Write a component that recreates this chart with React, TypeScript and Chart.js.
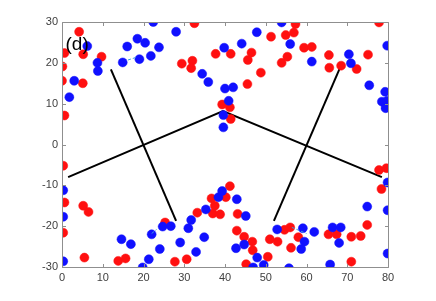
import React, { useEffect, useRef } from "react";
import { Chart, registerables } from "chart.js";
Chart.register(...registerables);

const xTicks = [0, 10, 20, 30, 40, 50, 60, 70, 80];
const yTicks = [-30, -20, -10, 0, 10, 20, 30];
const panelLabel = "(d)";

const redPoints: [number, number][] = [
  [0.6, 22.4], [4.2, 27.6], [5.2, 22.1], [9.7, 21.5], [0.1, 19.1], [0, 15.6], [5.1, 15.0],
  [32.5, 29.7], [51.3, 26.4], [54.9, 26.8], [37.7, 22.2], [41.4, 22.2], [46.5, 22.5], [45.6, 20.7],
  [29.4, 19.8], [32.0, 20.5], [31.7, 18.7], [48.8, 17.6], [53.9, 20.0], [45.5, 14.8], [39.3, 9.8],
  [41.2, 9.1], [41.4, 6.25],
  [57.3, 29.5], [56.9, 27.4], [59.4, 23.7], [61.3, 23.9], [55.3, 21.5], [65.5, 21.9], [65.6, 18.8],
  [68.5, 19.3], [72.3, 18.5], [75.1, 22.0], [77.8, 29.9],
  [77.8, -6.25], [79.6, -5.8], [78.4, -10.9],
  [0.6, 7.1], [0.3, -5.2], [0.6, -14.2], [5.2, -15.0], [6.5, -16.5], [0.3, -21.6], [5.5, -27.7],
  [13.8, -28.5], [15.6, -27.9], [25.3, -19.1], [27.7, -28.7],
  [30.6, -28.1], [33.2, -16.7], [37.0, -16.9], [38.8, -17.1], [37.5, -15.0], [36.7, -13.2],
  [40.2, -12.9], [41.2, -10.2], [43.1, -17.0], [42.9, -21.1], [44.7, -22.6], [46.7, -23.8],
  [46.8, -25.9], [50.5, -27.5], [45.2, -29.3], [51.0, -23.2], [52.9, -23.8], [54.6, -20.9],
  [56.0, -20.3], [58.0, -22.7], [56.2, -25.3], [65.4, -22.0], [67.4, -22.0], [71.0, -22.6],
  [73.3, -22.4], [74.9, -19.7], [71.0, -28.7],
];

const bluePoints: [number, number][] = [
  [6.2, 24.1], [8.7, 20.0], [8.8, 18.0], [3.0, 15.6], [1.8, 11.6], [14.9, 20.1], [19.0, 20.9],
  [21.8, 21.7], [23.8, 23.8], [16.0, 24.0], [18.5, 25.9], [20.4, 24.9], [22.4, 30.0], [28.0, 27.6],
  [47.8, 27.5], [53.9, 29.9], [39.8, 23.7], [44.1, 24.7], [34.4, 17.3], [35.9, 15.3], [40.0, 13.7],
  [42.0, 14.0], [40.9, 10.7], [39.6, 7.2], [39.6, 4.2],
  [56.0, 24.6], [61.3, 20.3], [70.4, 22.1], [70.9, 19.9], [79.8, 24.2], [75.4, 14.5], [79.3, 12.9],
  [78.5, 10.5], [79.8, 10.7], [79.6, 9.3], [79.4, 8.9],
  [79.9, -9.3], [0.3, -11.2], [0.3, -17.7], [0.3, -28.6],
  [14.6, -23.2], [16.9, -24.4], [19.8, -30.1], [21.3, -28.1], [22.0, -22.0], [24.0, -25.6],
  [24.7, -20.1], [26.7, -20.0],
  [29.0, -24.0], [32.9, -26.3], [34.9, -22.7], [31.0, -20.5], [31.7, -18.5], [35.3, -15.9],
  [38.4, -12.9], [39.3, -11.4], [42.9, -13.4], [45.1, -17.5], [44.7, -24.5], [42.7, -25.4],
  [47.9, -27.7], [49.5, -29.5], [46.9, -30.1], [52.8, -20.8],
  [59.1, -20.5], [59.5, -23.8], [58.7, -25.6], [61.9, -21.4], [55.7, -30.3], [66.4, -20.3],
  [68.4, -20.3], [68.0, -24.1], [65.8, -29.4], [74.9, -15.2], [79.9, -16.1], [79.9, -26.7],
];

const chevron: [number, number][] = [[1.5, -8], [39.5, 8.2], [78.5, -8]];
const diagLeft: [number, number][] = [[12, 18.4], [28, -18.7]];
const diagRight: [number, number][] = [[68.4, 19.2], [52, -18.7]];
const arrows: [number, number][][] = [
  [[16.2, 20.7], [18.4, 21.4]],
  [[22.0, -21.8], [23.2, -20.8]],
  [[56.4, -20.3], [60.0, -21.8]],
];

const toXY = (pts: [number, number][]) => pts.map(([x, y]) => ({ x, y }));

const framePlugin = {
  id: "frame",
  afterDatasetsDraw(chart: any) {
    const { ctx, chartArea: a, scales } = chart;
    const xs = scales.x;
    const ys = scales.y;
    ctx.save();
    ctx.strokeStyle = "#8f8f8f";
    ctx.lineWidth = 1;
    const L = Math.round(a.left) + 0.5;
    const R = Math.round(a.right) + 0.5;
    const T = Math.round(a.top) + 0.5;
    const B = Math.round(a.bottom) + 0.5;
    ctx.beginPath();
    ctx.rect(L, T, R - L, B - T);
    ctx.stroke();
    const tl = 3.5;
    ctx.beginPath();
    xTicks.forEach((v) => {
      const px = Math.round(xs.getPixelForValue(v)) + 0.5;
      ctx.moveTo(px, B);
      ctx.lineTo(px, B - tl);
      ctx.moveTo(px, T);
      ctx.lineTo(px, T + tl);
    });
    yTicks.forEach((v) => {
      const py = Math.round(ys.getPixelForValue(v)) + 0.5;
      ctx.moveTo(L, py);
      ctx.lineTo(L + tl, py);
      ctx.moveTo(R, py);
      ctx.lineTo(R - tl, py);
    });
    ctx.stroke();
    ctx.fillStyle = "#000";
    ctx.font = '19px "Liberation Sans", Arial, sans-serif';
    ctx.textBaseline = "alphabetic";
    ctx.textAlign = "left";
    ctx.fillText(panelLabel, a.left + 3.5, a.top + 28);
    ctx.restore();
  },
};

export default function App() {
  const ref = useRef<HTMLCanvasElement | null>(null);
  useEffect(() => {
    if (!ref.current) return;
    const lineDs = (pts: [number, number][]) => ({
      data: toXY(pts),
      showLine: true,
      borderColor: "#000",
      borderWidth: 2,
      pointRadius: 0,
      fill: false,
      order: 5,
      clip: 0,
    });
    const chart = new Chart(ref.current, {
      type: "scatter",
      data: {
        datasets: [
          lineDs(chevron),
          lineDs(diagLeft),
          lineDs(diagRight),
          {
            data: toXY(redPoints),
            backgroundColor: "#ff1010",
            borderColor: "#ff1010",
            borderWidth: 0.5,
            pointRadius: 4.5,
            order: 3,
            clip: 0,
          },
          {
            data: toXY(bluePoints),
            backgroundColor: "#1010ff",
            borderColor: "#1010ff",
            borderWidth: 0.5,
            pointRadius: 4.5,
            order: 2,
            clip: 0,
          },
          ...arrows.map((seg) => ({
            data: toXY(seg),
            showLine: true,
            borderColor: "#3d9be0",
            borderWidth: 1,
            borderDash: [3, 2],
            pointRadius: 0,
            order: 1,
            clip: 0,
          })),
        ] as any,
      },
      options: {
        animation: false,
        responsive: false,
        layout: { padding: { left: 0, right: 48, top: 22, bottom: 0 } },
        plugins: { legend: { display: false }, tooltip: { enabled: false } },
        scales: {
          x: {
            type: "linear",
            min: 0,
            max: 80,
            afterBuildTicks: (s: any) => {
              s.ticks = xTicks.map((v) => ({ value: v }));
            },
            afterFit: (s: any) => {
              s.height = 34;
            },
            grid: { display: false, drawTicks: false },
            border: { display: false },
            ticks: {
              padding: 4,
              color: "#404040",
              font: { family: '"Liberation Sans", Arial, sans-serif', size: 11 },
              maxRotation: 0,
            },
          },
          y: {
            type: "linear",
            min: -30,
            max: 30,
            afterBuildTicks: (s: any) => {
              s.ticks = yTicks.map((v) => ({ value: v }));
            },
            afterFit: (s: any) => {
              s.width = 62;
            },
            grid: { display: false, drawTicks: false },
            border: { display: false },
            ticks: {
              padding: 4,
              color: "#404040",
              font: { family: '"Liberation Sans", Arial, sans-serif', size: 11 },
            },
          },
        },
      },
      plugins: [framePlugin],
    });
    return () => chart.destroy();
  }, []);
  return (
    <div style={{ position: "fixed", left: 0, top: 0, width: 436, height: 301, background: "#fff" }}>
      <canvas ref={ref} width={436} height={301} style={{ display: "block" }} />
    </div>
  );
}
